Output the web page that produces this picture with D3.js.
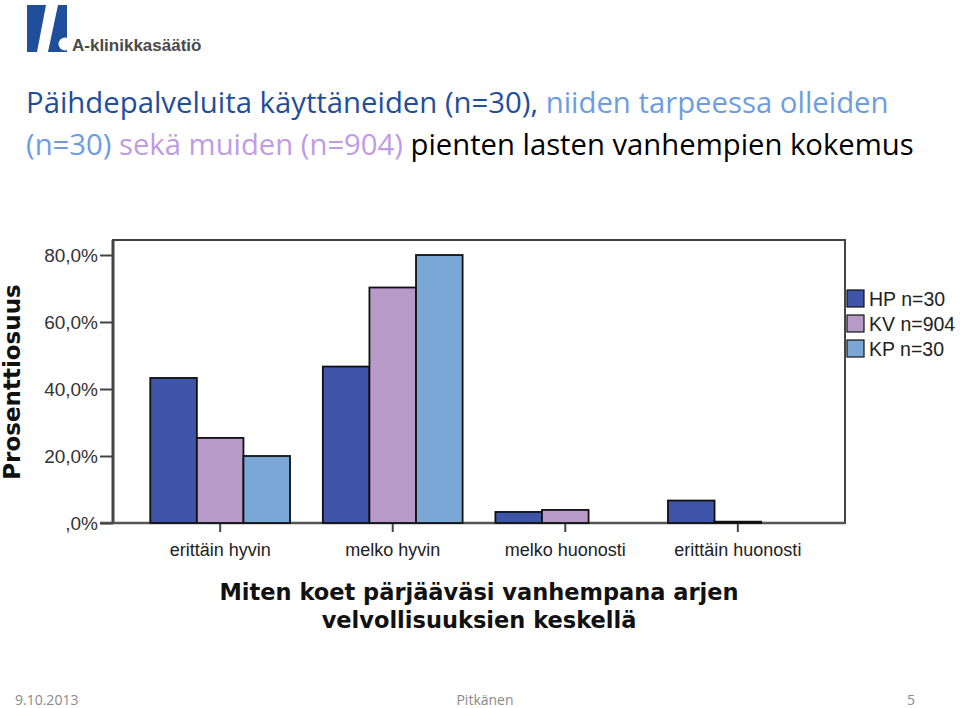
<!DOCTYPE html>
<meta charset="utf-8">
<head>
    <title>Pienten lasten vanhempien kokemus</title>
    <script src="https://d3js.org/d3.v7.min.js"></script>
    <style>
        body { margin: 0; background: #fff; }
        svg { display: block; }
        .tick-label { font-family: 'Liberation Sans', Arial, sans-serif; font-size: 19px; fill: #333; }
        .cat-label { font-family: 'Liberation Sans', Arial, sans-serif; font-size: 18px; fill: #222; }
        .axis-title { font-family: 'DejaVu Sans', Verdana, sans-serif; font-size: 22.5px; font-weight: bold; fill: #111; }
        .legend-label { font-family: 'Liberation Sans', Arial, sans-serif; font-size: 19.5px; fill: #222; }
        .footer { font-family: 'Open Sans', sans-serif; font-size: 14px; fill: #8a8a8a; }
        .bar { stroke: #111; stroke-width: 1.8; }
    </style>
</head>
<body>
<svg width="960" height="708"></svg>
<script>
    // data (percent)
    const categories = ['erittäin hyvin', 'melko hyvin', 'melko huonosti', 'erittäin huonosti'];
    const seriesNames = ['HP n=30', 'KV n=904', 'KP n=30'];
    const hpValues = [43.3, 46.7, 3.3, 6.7];
    const kvValues = [25.4, 70.3, 3.9, 0.4];
    const kpValues = [20.0, 80.0, 0.0, 0.0];
    const yTicks = [0, 20, 40, 60, 80];
    const colors = ['#3f56a8', '#b89ac9', '#7ba7d6'];

    const series = [hpValues, kvValues, kpValues];

    const svg = d3.select('svg');

    // plot frame
    const plotLeft = 113, plotRight = 845, plotTop = 240, plotBottom = 523;

    const yScale = d3.scaleLinear().domain([0, 80]).range([plotBottom, 255]);
    const xScale = d3.scaleBand().domain(categories).range([plotLeft, plotRight])
        .paddingInner(0.19).paddingOuter(0.216);
    const xInner = d3.scaleBand().domain(d3.range(seriesNames.length)).range([0, xScale.bandwidth()]);

    // ---- logo ----
    const logo = svg.append('g');
    logo.append('path')
        .attr('d', 'M27,5 L46,5 L37,52 L27,52 Z')
        .attr('fill', '#1f4e9c');
    logo.append('path')
        .attr('d', 'M58,5 L67,5 L67,52 L48,52 Z')
        .attr('fill', '#1f4e9c');
    logo.append('circle')
        .attr('cx', 65).attr('cy', 44).attr('r', 6.5)
        .attr('fill', '#fff');
    logo.append('text')
        .attr('x', 72).attr('y', 51)
        .style('font-family', "'Liberation Sans', Arial, sans-serif")
        .style('font-size', '17px').style('font-weight', 'bold')
        .attr('fill', '#4a4a4a')
        .text('A-klinikkasäätiö');

    // ---- title ----
    const titleLines = [
        [['Päihdepalveluita käyttäneiden (n=30), ', '#1f4e9c'], ['niiden tarpeessa olleiden', '#6e9ce3']],
        [['(n=30) ', '#6e9ce3'], ['sekä muiden (n=904) ', '#c09be6'], ['pienten lasten vanhempien kokemus', '#000']]
    ];
    const titleWidths = [863, 888];
    titleLines.forEach((parts, i) => {
        const t = svg.append('text')
            .attr('x', 26).attr('y', 113 + i * 42)
            .style('font-family', "'Open Sans', sans-serif")
            .style('font-size', '30px');
        parts.forEach(p => t.append('tspan').attr('fill', p[1]).text(p[0]));
        const w = t.node().getComputedTextLength();
        t.style('font-size', (30 * titleWidths[i] / w) + 'px');
    });

    // ---- frame and axes ----
    svg.append('rect')
        .attr('x', plotLeft).attr('y', plotTop)
        .attr('width', plotRight - plotLeft).attr('height', plotBottom - plotTop)
        .attr('fill', 'none').attr('stroke', '#444').attr('stroke-width', 2);
    svg.append('line')
        .attr('x1', plotLeft).attr('x2', plotLeft).attr('y1', plotTop).attr('y2', plotBottom)
        .attr('stroke', '#444').attr('stroke-width', 3);
    svg.append('line')
        .attr('x1', plotLeft - 13).attr('x2', plotRight).attr('y1', plotBottom).attr('y2', plotBottom)
        .attr('stroke', '#555').attr('stroke-width', 2.5);

    const yAxis = d3.axisLeft(yScale)
        .tickValues(yTicks)
        .tickSize(13)
        .tickPadding(2)
        .tickFormat(d => d === 0 ? ',0%' : d3.format('.1f')(d).replace('.', ',') + '%');
    const yg = svg.append('g').attr('transform', `translate(${plotLeft},0)`).call(yAxis);
    yg.select('.domain').remove();
    yg.selectAll('line').attr('stroke', '#444').attr('stroke-width', 2);
    yg.selectAll('text').attr('class', 'tick-label').attr('fill', null);

    const xAxis = d3.axisBottom(xScale).tickSize(9).tickPadding(11);
    const xg = svg.append('g').attr('transform', `translate(0,${plotBottom})`).call(xAxis);
    xg.select('.domain').remove();
    xg.selectAll('line').attr('stroke', '#444').attr('stroke-width', 2);
    xg.selectAll('text').attr('class', 'cat-label').attr('fill', null);

    // ---- bars ----
    const groups = svg.append('g').selectAll('g')
        .data(categories)
        .join('g')
        .attr('transform', d => `translate(${xScale(d)},0)`);

    groups.selectAll('rect')
        .data((c, ci) => series.map((s, si) => ({si: si, value: s[ci]})))
        .join('rect')
        .attr('class', 'bar')
        .attr('x', d => xInner(d.si))
        .attr('width', xInner.bandwidth())
        .attr('y', d => yScale(d.value))
        .attr('height', d => plotBottom - yScale(d.value))
        .attr('fill', d => colors[d.si]);

    // axis titles
    svg.append('text')
        .attr('class', 'axis-title')
        .attr('transform', 'translate(20,382) rotate(-90)')
        .attr('text-anchor', 'middle')
        .style('font-size', '23px')
        .text('Prosenttiosuus');

    svg.append('text')
        .attr('class', 'axis-title')
        .attr('x', 479).attr('y', 600)
        .attr('text-anchor', 'middle')
        .text('Miten koet pärjääväsi vanhempana arjen');
    svg.append('text')
        .attr('class', 'axis-title')
        .attr('x', 479).attr('y', 628)
        .attr('text-anchor', 'middle')
        .text('velvollisuuksien keskellä');

    // ---- legend ----
    const legend = svg.append('g').selectAll('g')
        .data(seriesNames)
        .join('g')
        .attr('transform', (d, i) => `translate(847,${290 + i * 25})`);
    legend.append('rect')
        .attr('width', 17).attr('height', 17)
        .attr('fill', (d, i) => colors[i])
        .attr('stroke', '#111').attr('stroke-width', 1.2);
    legend.append('text')
        .attr('class', 'legend-label')
        .attr('x', 22).attr('y', 16)
        .text(d => d);

    // ---- footer ----
    svg.append('text').attr('class', 'footer').attr('x', 15).attr('y', 705).text('9.10.2013');
    svg.append('text').attr('class', 'footer').attr('x', 485).attr('y', 705)
        .attr('text-anchor', 'middle').text('Pitkänen');
    svg.append('text').attr('class', 'footer').attr('x', 915).attr('y', 705)
        .attr('text-anchor', 'end').text('5');
</script>
</body>
